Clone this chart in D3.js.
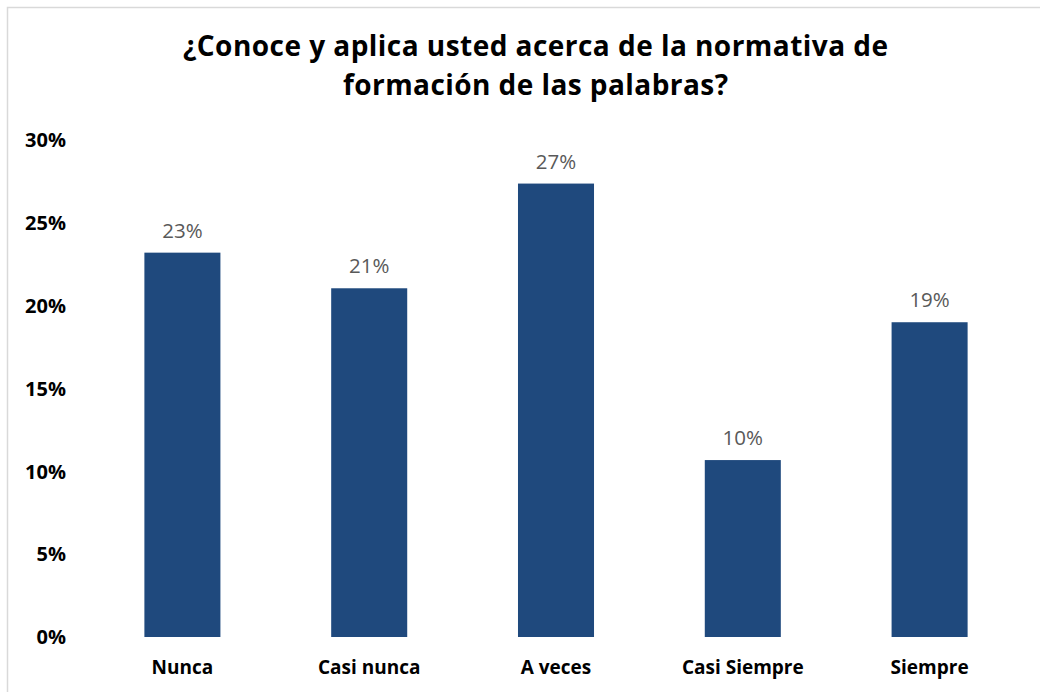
<!DOCTYPE html>
<html>
<head>
<meta charset="utf-8">
<script src="https://cdn.jsdelivr.net/npm/d3@7"></script>
<style>
  html, body { margin: 0; padding: 0; background: #fff; }
  svg { display: block; }
</style>
</head>
<body>
<div id="chart"></div>
<script>
const titleLines = ["¿Conoce y aplica usted acerca de la normativa de", "formación de las palabras?"];
const categories = ["Nunca", "Casi nunca", "A veces", "Casi Siempre", "Siempre"];
const values = [0.232, 0.2105, 0.2737, 0.1068, 0.19];
const valueLabels = ["23%", "21%", "27%", "10%", "19%"];
const yTicks = [0, 0.05, 0.10, 0.15, 0.20, 0.25, 0.30];

const W = 1040, H = 692;
const svg = d3.select("#chart").append("svg").attr("width", W).attr("height", H);

svg.append("rect").attr("x", 7.5).attr("y", 7.5).attr("width", W + 10).attr("height", H + 10)
  .attr("fill", "#fff").attr("stroke", "#d9d9d9").attr("stroke-width", 1.5);

const title = svg.append("g").attr("font-family", "'Open Sans', sans-serif")
  .attr("font-weight", "bold").attr("font-size", 28).attr("fill", "#000").attr("text-anchor", "middle");
const titleW = [705, 385];
titleLines.forEach((t, i) => {
  title.append("text").attr("x", 535.5).attr("y", 56 + i * 39)
    .attr("textLength", titleW[i]).attr("lengthAdjust", "spacing").text(t);
});

const x = d3.scaleBand().domain(categories).range([89, 1023]).paddingInner(0.593).paddingOuter(0.2965);
const y = d3.scaleLinear().domain([0, 0.30]).range([637, 140]);

const yAxis = d3.axisLeft(y).tickValues(yTicks).tickFormat(d3.format(".0%")).tickSize(0).tickPadding(0);
const yg = svg.append("g").attr("transform", "translate(66,0)").call(yAxis);
yg.select(".domain").remove();
yg.selectAll("text").attr("font-family", "'Open Sans', sans-serif").attr("font-weight", "bold")
  .attr("font-size", 20).attr("fill", "#000").attr("dy", "0.34em");

const xAxis = d3.axisBottom(x).tickSize(0).tickPadding(0);
const xg = svg.append("g").attr("transform", "translate(0,637)").call(xAxis);
xg.select(".domain").remove();
xg.selectAll("text").attr("font-family", "'Open Sans', sans-serif").attr("font-weight", "bold")
  .attr("font-size", 19).attr("fill", "#000").attr("dy", null).attr("y", 37);

svg.append("g").selectAll("rect").data(values).join("rect")
  .attr("x", (d, i) => x(categories[i]))
  .attr("width", x.bandwidth())
  .attr("y", d => y(d))
  .attr("height", d => y(0) - y(d))
  .attr("fill", "#1f497d");

svg.append("g").selectAll("text").data(values).join("text")
  .attr("x", (d, i) => x(categories[i]) + x.bandwidth() / 2)
  .attr("y", d => y(d) - 15)
  .attr("text-anchor", "middle")
  .attr("font-family", "'Open Sans', sans-serif")
  .attr("font-size", 20.5)
  .attr("fill", "#595959")
  .text((d, i) => valueLabels[i]);
</script>
</body>
</html>
